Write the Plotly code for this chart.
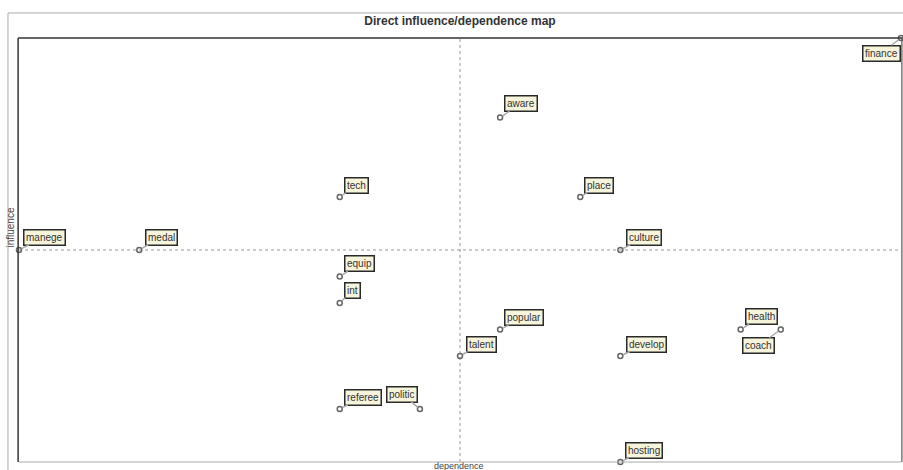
import plotly.graph_objects as go

# Data (dependence = x, influence = y)
names = ["manege", "medal", "tech", "equip", "int", "referee", "politic", "talent",
         "popular", "aware", "place", "culture", "develop", "hosting", "health", "coach", "finance"]
dependence = [0, 3, 8, 8, 8, 8, 10, 11, 12, 12, 14, 15, 15, 15, 18, 19, 22]
influence = [8, 8, 10, 7, 6, 2, 2, 4, 5, 13, 10, 8, 4, 0, 5, 5, 16]
# label offsets in pixels (styling)
label_dx = [25, 22, 17, 20, 13, 23, -18, 21, 24, 21, 19, 24, 26, 24, 21, -22, -20]
label_dy = [-13, -13, -12, -13, -13, -12, -15, -12, -12, -14, -12, -13, -12, -12, -13, 16, 15]

mean_dep = 11
mean_inf = 8

fig = go.Figure()
fig.add_trace(go.Scatter(
    x=dependence, y=influence, mode="markers",
    marker=dict(symbol="circle-open", size=5, color="#666", line=dict(width=1.5)),
    cliponaxis=False, hoverinfo="text", text=names, showlegend=False))

annotations = []
for n, xv, yv, dx, dy in zip(names, dependence, influence, label_dx, label_dy):
    annotations.append(dict(x=xv, y=yv, xref="x", yref="y", text=n, showarrow=True,
                            ax=dx, ay=dy, arrowhead=0, arrowwidth=1.5, arrowcolor="#aaa",
                            standoff=3,
                            font=dict(family="Liberation Sans, Arial", size=10, color="#333"),
                            bgcolor="#f7f4dc", bordercolor="#2a2a2a", borderwidth=1.5, borderpad=1.5))

annotations.append(dict(x=-0.0095, y=0.552, xref="paper", yref="paper", text="influence",
                        showarrow=False, textangle=-90, xanchor="center", yanchor="middle",
                        font=dict(family="Liberation Sans, Arial", size=10, color="#444")))
annotations.append(dict(x=0.4989, y=0.008, xref="paper", yref="paper", text="dependence",
                        showarrow=False, yanchor="top", xanchor="center",
                        font=dict(family="Liberation Sans, Arial", size=9, color="#444")))

shapes = [
    dict(type="rect", xref="paper", yref="paper", x0=-0.0125, x1=1.01, y0=-0.05, y1=1.059,
         line=dict(color="#aaa", width=1), layer="below"),
    dict(type="line", xref="x", yref="paper", x0=mean_dep, x1=mean_dep, y0=0, y1=1,
         line=dict(color="#999", width=1, dash="dot"), layer="below"),
    dict(type="line", xref="paper", yref="y", x0=0, x1=1, y0=mean_inf, y1=mean_inf,
         line=dict(color="#999", width=1, dash="dot"), layer="below"),
    dict(type="line", xref="paper", yref="paper", x0=-0.001, x1=-0.001, y0=0, y1=1,
         line=dict(color="#333", width=1.5)),
    dict(type="line", xref="paper", yref="paper", x0=-0.001, x1=1.01, y0=1, y1=1,
         line=dict(color="#333", width=1.5)),
    dict(type="line", xref="paper", yref="paper", x0=1.001, x1=1.001, y0=0, y1=1,
         line=dict(color="#555", width=1.2)),
    dict(type="line", xref="paper", yref="paper", x0=0, x1=1, y0=0, y1=0,
         line=dict(color="#aaa", width=1)),
]

fig.update_layout(
    width=903, height=470,
    margin=dict(l=19, r=2, t=38, b=8),
    paper_bgcolor="white", plot_bgcolor="white",
    title=dict(text="<b>Direct influence/dependence map</b>", x=0.5, xref="paper",
               y=1 - 21 / 470, yref="container", yanchor="middle", xanchor="center",
               font=dict(family="Liberation Sans, Arial", size=12, color="#333")),
    xaxis=dict(range=[0, 22], showgrid=False, zeroline=False, showticklabels=False,
               ticks="", showline=False, fixedrange=True),
    yaxis=dict(range=[0, 16], showgrid=False, zeroline=False, showticklabels=False,
               ticks="", showline=False, fixedrange=True),
    annotations=annotations, shapes=shapes, showlegend=False,
)

fig.write_html("out.html", config={"displayModeBar": False},
               post_script="document.body.style.margin='0';document.body.style.overflow='hidden';")
